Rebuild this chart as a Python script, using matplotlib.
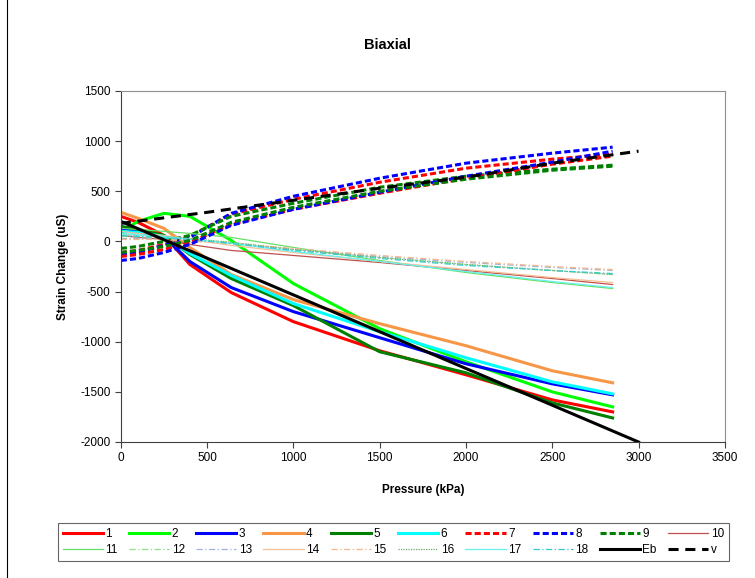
import matplotlib
matplotlib.use('Agg')
import matplotlib.pyplot as plt
from matplotlib.lines import Line2D

plt.rcParams['font.family'] = ['Liberation Sans', 'DejaVu Sans']
plt.rcParams['axes.unicode_minus'] = False

# pressure steps (kPa) used by the gauge readings
pressure = [0, 100, 250, 400, 640, 1000, 1500, 2000, 2500, 2850]

# thick solid gauges 1-6
g1 = [250, 190, 60, -230, -510, -800, -1090, -1330, -1580, -1700]
g2 = [100, 200, 280, 250, 10, -420, -870, -1200, -1500, -1650]
g3 = [130, 110, 50, -200, -460, -700, -960, -1220, -1420, -1530]
g4 = [290, 230, 130, -60, -330, -580, -820, -1040, -1290, -1410]
g5 = [150, 120, 60, -130, -370, -640, -1100, -1310, -1610, -1760]
g6 = [100, 90, 50, -120, -340, -620, -900, -1160, -1400, -1520]

# thick dashed gauges 7-9 (two readings each)
g7 = [-110, -90, -30, 50, 270, 420, 590, 730, 820, 870]
g8 = [-130, -110, -40, 40, 280, 450, 630, 780, 880, 940]
g9 = [-70, -50, 0, 60, 250, 380, 540, 650, 720, 760]
g7b = [-150, -130, -80, -10, 170, 320, 480, 630, 770, 850]
g8b = [-190, -170, -110, -30, 160, 320, 490, 650, 790, 900]
g9b = [-110, -90, -50, 10, 190, 340, 500, 620, 710, 750]

# thin gauges 10-18
g10 = [60, 40, 20, -30, -90, -140, -210, -290, -370, -430]
g11 = [130, 120, 100, 80, 40, -60, -190, -310, -410, -470]
g12 = [50, 45, 40, 20, -10, -80, -160, -230, -290, -330]
g13 = [30, 30, 30, 10, -20, -80, -150, -210, -260, -290]
g14 = [100, 80, 60, 20, -40, -110, -200, -280, -360, -410]
g15 = [20, 20, 20, 0, -20, -70, -140, -200, -250, -280]
g16 = [70, 60, 50, 30, -10, -80, -160, -230, -290, -330]
g17 = [80, 65, 50, 20, -20, -100, -200, -300, -400, -460]
g18 = [60, 50, 40, 20, -20, -90, -170, -240, -290, -320]

# theory lines
theory_p = [0, 500, 1000, 1500, 2000, 2500, 3000]
eb = [200, -167, -533, -900, -1267, -1633, -2000]
v = [180, 290, 410, 530, 640, 780, 900]

fig = plt.figure(figsize=(7.55, 5.78), dpi=100)
ax = fig.add_axes([0.160, 0.2353, 0.800, 0.6073])

thick = 2.2
thin = 0.9
series = [
    ('1', g1, '#FF0000', thick, '-'),
    ('2', g2, '#00FF00', thick, '-'),
    ('3', g3, '#0000FF', thick, '-'),
    ('4', g4, '#F79646', thick, '-'),
    ('5', g5, '#008000', thick, '-'),
    ('6', g6, '#00FFFF', thick, '-'),
    ('7', g7, '#FF0000', thick, (0, (2, 1))),
    ('8', g8, '#0000FF', thick, (0, (2, 1))),
    ('9', g9, '#008000', thick, (0, (2, 1))),
    ('10', g10, '#C0504D', thin, '-'),
    ('11', g11, '#66E066', thin, '-'),
    ('12', g12, '#8CE08C', thin, (0, (5, 2, 1, 2))),
    ('13', g13, '#9FB4D8', thin, (0, (5, 2, 1, 2))),
    ('14', g14, '#F5C096', thin, '-'),
    ('15', g15, '#F5B88A', thin, (0, (5, 2, 1, 2))),
    ('16', g16, '#6FA86F', thin, (0, (1, 1))),
    ('17', g17, '#66F0F0', thin, '-'),
    ('18', g18, '#33CCCC', thin, (0, (5, 2, 1, 2))),
]

handles = {}
for lab, ys, col, lw, ls in series:
    h, = ax.plot(pressure, ys, color=col, lw=lw, linestyle=ls, label=lab)
    handles[lab] = h

for ys, col in [(g7b, '#FF0000'), (g8b, '#0000FF'), (g9b, '#008000')]:
    ax.plot(pressure, ys, color=col, lw=thick, linestyle=(0, (2, 1)))

h, = ax.plot(theory_p, eb, color='black', lw=thick, label='Eb')
handles['Eb'] = h
h, = ax.plot(theory_p, v, color='black', lw=thick, linestyle=(0, (3.3, 2.2)), label='v')
handles['v'] = h

ax.set_xlim(0, 3500)
ax.set_ylim(-2000, 1500)
ax.set_xticks(range(0, 3501, 500))
ax.set_yticks(range(-2000, 1501, 500))
ax.tick_params(labelsize=8.5, length=4, width=0.8, color='#404040', direction='out')
for side in ['top', 'right']:
    ax.spines[side].set_color('#909090')
for side in ['left', 'bottom']:
    ax.spines[side].set_color('#404040')

ax.set_xlabel('Pressure (kPa)', fontsize=8.5, fontweight='bold', labelpad=14)
ax.set_ylabel('Strain Change (uS)', fontsize=8.5, fontweight='bold', labelpad=8)
fig.text(0.513, 0.922, 'Biaxial', fontsize=10.5, fontweight='bold', ha='center', va='center')

# legend: 10 per row, matplotlib fills by column so interleave rows
row1 = ['1', '2', '3', '4', '5', '6', '7', '8', '9', '10']
row2 = ['11', '12', '13', '14', '15', '16', '17', '18', 'Eb', 'v']
order = []
for a, b in zip(row1, row2):
    order += [a, b]
leg = fig.legend([handles[k] for k in order], order, ncol=10,
                 loc='center', bbox_to_anchor=(0.521, 0.0623),
                 fontsize=8.5, handlelength=3.4, handletextpad=0.2, columnspacing=0.98,
                 labelspacing=0.35, frameon=True, fancybox=False, borderpad=0.4)
leg.get_frame().set_edgecolor('#404040')
leg.get_frame().set_linewidth(0.8)

# outer chart border (left edge visible)
fig.add_artist(Line2D([7 / 755, 7 / 755], [0, 1], transform=fig.transFigure, color='black', lw=0.8))

plt.savefig('out.png', dpi=100)
